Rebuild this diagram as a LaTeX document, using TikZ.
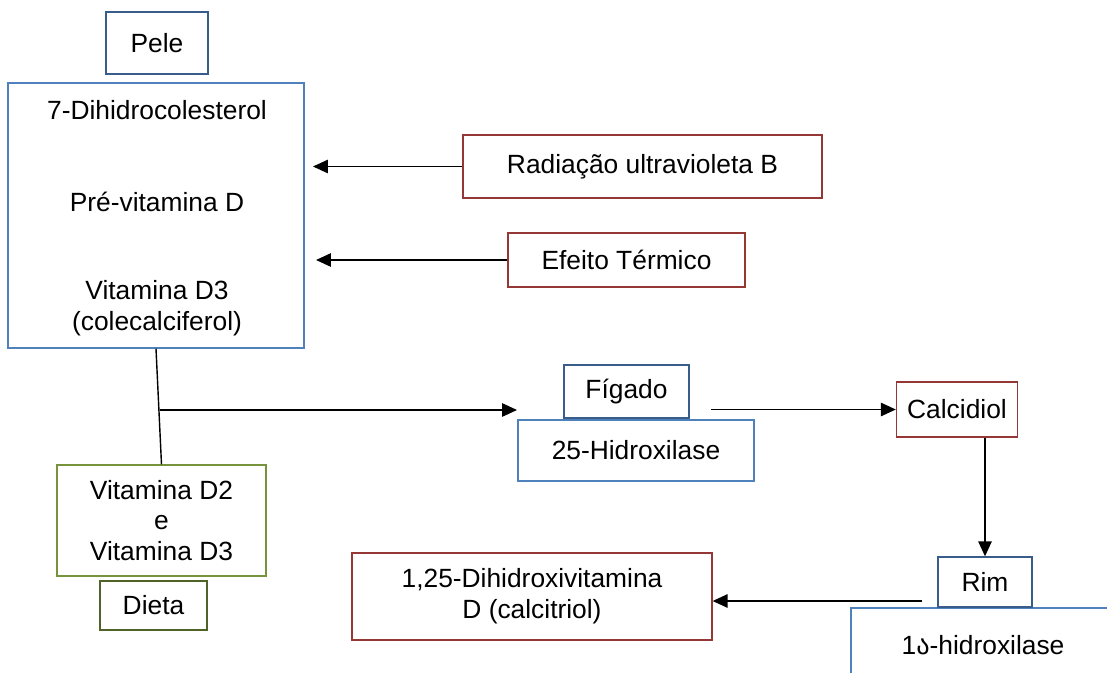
\documentclass[tikz,border=0pt]{standalone}
\usepackage{fontspec}
\setmainfont{Liberation Sans}
\newfontfamily\geofont{DejaVu Sans}
\usetikzlibrary{arrows.meta}

\definecolor{boxblue}{HTML}{4F81BD}
\definecolor{darkblue}{HTML}{385D8A}
\definecolor{boxred}{HTML}{953735}
\definecolor{boxgreen}{HTML}{77933C}
\definecolor{darkgreen}{HTML}{4F6228}

\begin{document}
\begin{tikzpicture}[x=0.02cm,y=-0.02cm,
  box/.style={draw,line width=0.8pt,inner sep=0pt,align=center,
    font=\fontsize{15}{17.5}\selectfont},
  txt/.style={inner sep=0pt,align=center,font=\fontsize{15}{17.5}\selectfont},
  arr/.style={-{Triangle[length=0.3cm,width=0.27cm]},line width=0.8pt}]
  \useasboundingbox (0,0) rectangle (1107,673);
  % skin
  \node[box,darkblue,text=black,minimum width=2.04cm,minimum height=1.24cm] (pele) at (157,43) {Pele};
  \node[box,boxblue,minimum width=5.92cm,minimum height=5.3cm] (skin) at (156,215.5) {};
  \node[txt] (dhc) at (157,110) {7-Dihidrocolesterol};
  \node[txt] (prevd) at (157,202) {Pré-vitamina D};
  \node[txt] (vitd3) at (157,308) {Vitamina D3\\(colecalciferol)};
  \node[box,boxred,text=black,minimum width=7.18cm,minimum height=1.26cm] (rad) at (642.5,166.5) {Radiação ultravioleta B};
  \node[box,boxred,text=black,minimum width=4.74cm,minimum height=1.08cm] (efeito) at (626.5,260) {Efeito Térmico};
  \coordinate (radend) at (313,166.5);
  \coordinate (efend) at (316,260);
  \draw[arr] (rad.west) -- (radend);
  \draw[arr] (efeito.west) -- (efend);
  % diet
  \node[box,boxgreen,text=black,minimum width=4.18cm,minimum height=2.22cm] (diet) at (161.5,520.5) {Vitamina D2\\e\\Vitamina D3};
  \node[box,darkgreen,text=black,minimum width=2.14cm,minimum height=0.98cm] (dieta) at (153.5,605.5) {Dieta};
  \draw[line width=0.8pt] (skin.south) -- (diet.north);
  % liver
  \node[box,darkblue,text=black,minimum width=2.5cm,minimum height=1.06cm] (figado) at (626.5,391.5) {Fígado};
  \node[box,boxblue,text=black,minimum width=4.72cm,minimum height=1.22cm] (hidrox) at (636,450.5) {25-Hidroxilase};
  \node[box,boxred,text=black,minimum width=2.42cm,minimum height=1.1cm] (calc) at (957,409.5) {Calcidiol};
  \coordinate (junc) at (160,410);
  \coordinate (hidend) at (517,410);
  \coordinate (figstart) at (711,409.5);
  \draw[arr] (junc) -- (hidend);
  \draw[arr] (figstart) -- (calc.west);
  % kidney
  \node[box,boxblue,text=black,minimum width=5.28cm,minimum height=1.48cm] (alfa) at (983,645) {1{\geofont ა}-hidroxilase};
  \node[box,darkblue,text=black,fill=white,minimum width=1.88cm,minimum height=1.0cm] (rim) at (985,582) {Rim};
  \node[box,boxred,text=black,minimum width=7.2cm,minimum height=1.74cm] (calcitriol) at (532,596.5) {1,25-Dihidroxivitamina\\D (calcitriol)};
  \coordinate (rimstart) at (922,601);
  \draw[arr] (rim.north |- calc.south) -- (rim.north);
  \draw[arr] (rimstart) -- (calcitriol.east |- rimstart);
\end{tikzpicture}
\end{document}
